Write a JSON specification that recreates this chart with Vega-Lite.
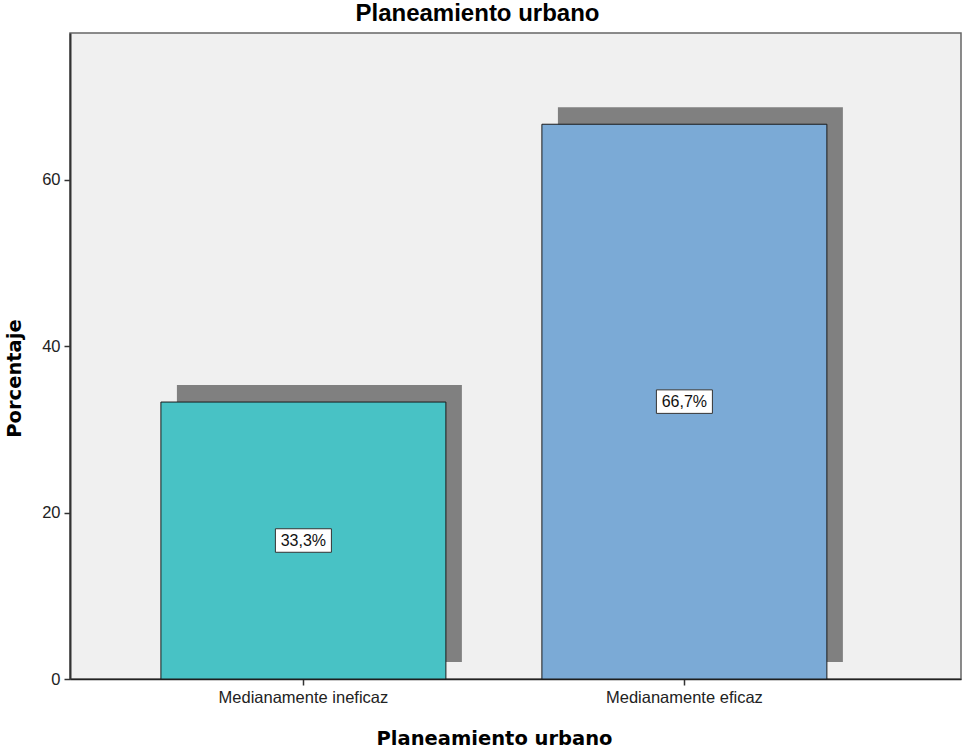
{
  "$schema": "https://vega.github.io/schema/vega-lite/v6.json",
  "width": 891,
  "height": 646,
  "autosize": "none",
  "padding": {"left": 70, "top": 33, "right": 2, "bottom": 72},
  "background": "white",
  "config": {
    "view": {"fill": "#F0F0F0", "stroke": "#666666", "strokeWidth": 1.5},
    "font": "Liberation Sans"
  },
  "title": {
    "text": "Planeamiento urbano",
    "fontSize": 24,
    "fontWeight": "bold",
    "font": "Liberation Sans",
    "color": "#000000",
    "offset": 7,
    "dx": -38,
    "anchor": "middle"
  },
  "data": {
    "values": [
      {"cat": "Medianamente ineficaz", "pct": 33.3, "label": "33,3%"},
      {"cat": "Medianamente eficaz", "pct": 66.7, "label": "66,7%"}
    ]
  },
  "encoding": {
    "x": {
      "field": "cat",
      "type": "nominal",
      "sort": null,
      "scale": {"paddingInner": 0.252, "paddingOuter": 0.2953, "align": 0.404},
      "axis": {
        "title": "Planeamiento urbano",
        "titleFont": "DejaVu Sans",
        "titleFontWeight": "bold",
        "titleFontSize": 19.5,
        "titleColor": "#000000",
        "titleX": 424,
        "titleY": 59,
        "titleBaseline": "middle",
        "titleAlign": "center",
        "labelAngle": 0,
        "labelFontSize": 16.5,
        "labelColor": "#222222",
        "labelPadding": 4,
        "tickSize": 6,
        "tickColor": "#333333",
        "tickWidth": 1.5,
        "domainColor": "#222222",
        "domainWidth": 1.5
      }
    }
  },
  "layer": [
    {
      "mark": {"type": "bar", "color": "#808080", "xOffset": 16, "yOffset": -17, "y2Offset": -17},
      "encoding": {
        "y": {
          "field": "pct",
          "type": "quantitative",
          "scale": {"domain": [0, 77.67], "nice": false, "zero": true},
          "axis": {
            "values": [0, 20, 40, 60],
            "grid": false,
            "title": "Porcentaje",
            "titleFont": "DejaVu Sans",
            "titleFontWeight": "bold",
            "titleFontSize": 19.5,
            "titleColor": "#000000",
            "titleX": -56,
            "titleY": 345,
            "titleAngle": -90,
            "titleBaseline": "middle",
            "titleAlign": "center",
            "labelFontSize": 16.5,
            "labelColor": "#222222",
            "labelPadding": 4,
            "tickSize": 6,
            "tickColor": "#333333",
            "tickWidth": 1.5,
            "domainColor": "#333333",
            "domainWidth": 2
          }
        }
      }
    },
    {
      "mark": {"type": "bar", "stroke": "#1a1a1a", "strokeWidth": 1},
      "encoding": {
        "y": {
          "field": "pct",
          "type": "quantitative",
          "scale": {"domain": [0, 77.67], "nice": false, "zero": true},
          "axis": null
        },
        "color": {
          "field": "cat",
          "type": "nominal",
          "sort": null,
          "scale": {"domain": ["Medianamente ineficaz", "Medianamente eficaz"], "range": ["#48C2C5", "#7BAAD6"]},
          "legend": null
        }
      }
    },
    {
      "mark": {
        "type": "point",
        "shape": "M-1,-0.42H1V0.42H-1Z",
        "size": 3136,
        "filled": true,
        "fill": "#FFFFFF",
        "stroke": "#333333",
        "strokeWidth": 1,
        "opacity": 1
      },
      "encoding": {
        "y": {
          "field": "pct",
          "type": "quantitative",
          "scale": {"domain": [0, 155.34], "nice": false, "zero": true},
          "axis": null
        }
      }
    },
    {
      "mark": {"type": "text", "fontSize": 16, "color": "#111111", "baseline": "middle", "align": "center"},
      "encoding": {
        "y": {
          "field": "pct",
          "type": "quantitative",
          "scale": {"domain": [0, 155.34], "nice": false, "zero": true},
          "axis": null
        },
        "text": {"field": "label", "type": "nominal"}
      }
    }
  ],
  "resolve": {"scale": {"y": "independent"}}
}
